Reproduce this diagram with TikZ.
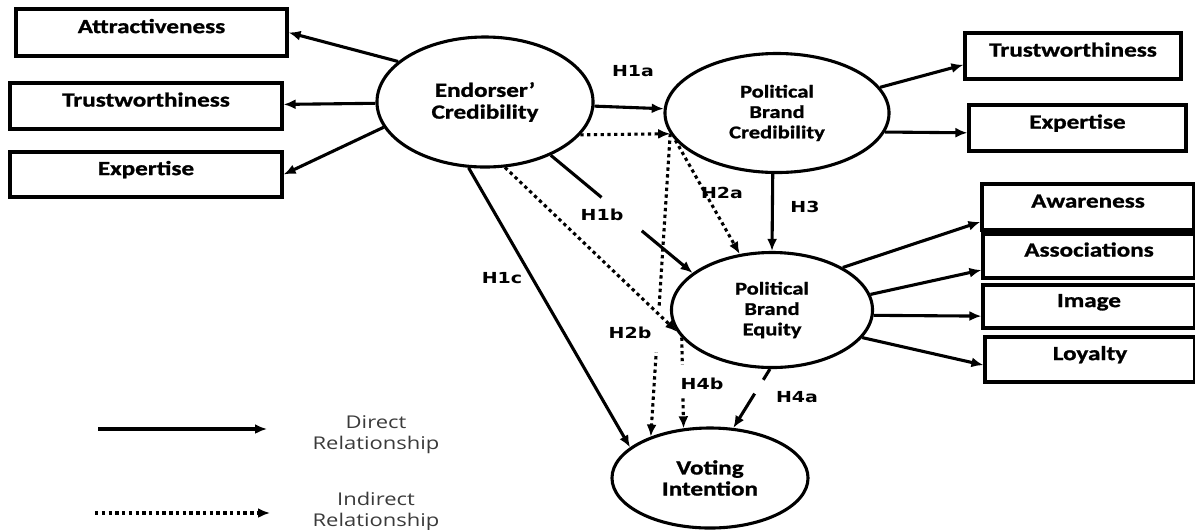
\documentclass[tikz,border=0pt]{standalone}
\usepackage{fontspec}
\usepackage{tikz}
\usetikzlibrary{arrows.meta}
\usetikzlibrary{shapes.geometric}
\usetikzlibrary{positioning}
\newfontfamily\boxfont[FakeStretch=1.25, BoldFeatures={FakeBold=1.2}]{Carlito}
\newfontfamily\hypfont[FakeStretch=1.25]{DejaVu Sans}
\newfontfamily\legfont[FakeStretch=1.25]{Open Sans}
\definecolor{legend-grey}{HTML}{3A3A3A}
\tikzset{
    direct/.style={line width=2.2pt},
    indirect/.style={line width=2.2pt, dash pattern=on 2.4pt off 2.4pt},
    hgap/.style={sloped, fill=white, inner sep=0pt, minimum height=0.2cm}
}

\begin{document}
\begin{tikzpicture}[x=0.025cm, y=-0.025cm, >={Latex[length=3mm, width=2.5mm]}]

    % frame
    \useasboundingbox (0,0) rectangle (1195,529);

    % constructs
    \begin{scope}[every node/.style={ellipse, draw, line width=2.2pt, align=center, inner sep=0pt}]
        \node[minimum width=5.4cm, minimum height=3.25cm, font=\boxfont\bfseries\fontsize{14.3}{15.5}\selectfont] (ec) at (485,102) {Endorser’\\Credibility};
        \node[minimum width=5.6cm, minimum height=2.975cm, font=\boxfont\bfseries\fontsize{12.8}{14.5}\selectfont] (pbc) at (777,113) {Political\\Brand\\Credibility};
        \node[minimum width=5.025cm, minimum height=2.875cm, font=\boxfont\bfseries\fontsize{12.8}{14.5}\selectfont] (pbe) at (772,310) {Political\\Brand\\Equity};
        \node[minimum width=4.9cm, minimum height=2.5cm, font=\boxfont\bfseries\fontsize{14.3}{15}\selectfont] (vi) at (710,478) {Voting\\Intention};
    \end{scope}

    % dimensions
    \begin{scope}[every node/.style={rectangle, draw, line width=2.2pt, text height=0.33cm, text depth=0.3cm,
                                     font=\boxfont\bfseries\fontsize{14.3}{16}\selectfont}]
        \node[minimum width=6.775cm, minimum height=1.175cm] (att) at (151.5,32.5) {Attractiveness};
        \node[minimum width=6.8cm, minimum height=1.15cm] (tw1) at (146,106) {Trustworthiness};
        \node[minimum width=6.8cm, minimum height=1.125cm] (ex1) at (146,174.5) {Expertise};
        \node[minimum width=5.4cm, minimum height=1.15cm] (tw2) at (1073,56) {Trustworthiness};
        \node[minimum width=5.425cm, minimum height=1.15cm] (ex2) at (1077.5,128) {Expertise};
        \node[minimum width=5.3cm, minimum height=1.15cm] (aw) at (1088,207) {Awareness};
        \node[minimum width=5.3cm, minimum height=1.1cm] (asc) at (1089,256) {Associations};
        \node[minimum width=5.3cm, minimum height=1.075cm] (im) at (1089,306.5) {Image};
        \node[minimum width=5.25cm, minimum height=1.125cm] (lo) at (1090,359.5) {Loyalty};
    \end{scope}

    % direct paths
    \begin{scope}[every edge/.style={draw, direct}]
        \path[->] (ec.155) edge (att.east);
        \path[->] (ec) edge (tw1);
        \path[->] (ec.194) edge (ex1.east);
        \path[->] (ec) edge (pbc);
        \path[->] (ec.-39) edge node[hgap, pos=0.5, minimum width=1.3cm] {} (pbe.155);
        \path[->] (ec.256) edge (vi.159);
        \path[->] (pbc.266) edge (pbe.north);
        \path[->] (pbe.268) edge node[hgap, pos=0.3, minimum width=0.4cm] {} (vi.65);
        \path[->] (pbc.14) edge ([yshift=-0.22cm]tw2.west);
        \path[->] (pbc.-10) edge ([yshift=-0.12cm]ex2.west);
        \path[->] (pbe.31) edge ([yshift=-0.37cm]aw.west);
        \path[->] (pbe.9) edge ([yshift=-0.35cm]asc.west);
        \path[->] (pbe.-3) edge ([yshift=-0.24cm]im.west);
        \path[->] (pbe.-17) edge ([yshift=-0.14cm]lo.west);
    \end{scope}

    % indirect paths
    \begin{scope}[every edge/.style={draw, indirect}]
        \path[->] (pbc.191) edge node[hgap, pos=0.648, minimum width=1.13cm] {} (vi.145);
        \path[->] (pbe.197) edge node[hgap, pos=0.48, minimum width=0.8cm] {} (vi.118);
        \path[->] (ec.-19) edge (pbc.191);
        \path[->] (pbc.195) edge (pbe.120);
        \path[->] (ec.-73) edge (pbe.193);
    \end{scope}

    % hypotheses
    \begin{scope}[every node/.style={font=\hypfont\bfseries\fontsize{10.8}{12}\selectfont}]
        \node (h1a) at (633,71) {H1a};
        \node (h1b) at (602,215) {H1b};
        \node (h1c) at (502,278) {H1c};
        \node (h2a) at (722,193) {H2a};
        \node (h2b) at (630,333) {H2b};
        \node (h3) at (805,207) {H3};
        \node (h4a) at (797,397) {H4a};
        \node (h4b) at (702,384) {H4b};
    \end{scope}

    % legend
    \coordinate (ds) at (98,429);
    \coordinate (de) at (267,429);
    \coordinate (is) at (95,513);
    \coordinate (ie) at (270,513);
    \draw[->, direct] (ds) -- (de);
    \draw[->, indirect] (is) -- (ie);
    \begin{scope}[every node/.style={align=center, text=legend-grey, font=\legfont\fontsize{12.5}{14.9}\selectfont}]
        \node (dl) at (376,435) {Direct\\Relationship};
        \node (il) at (376,511) {Indirect\\Relationship};
    \end{scope}

\end{tikzpicture}
\end{document}
